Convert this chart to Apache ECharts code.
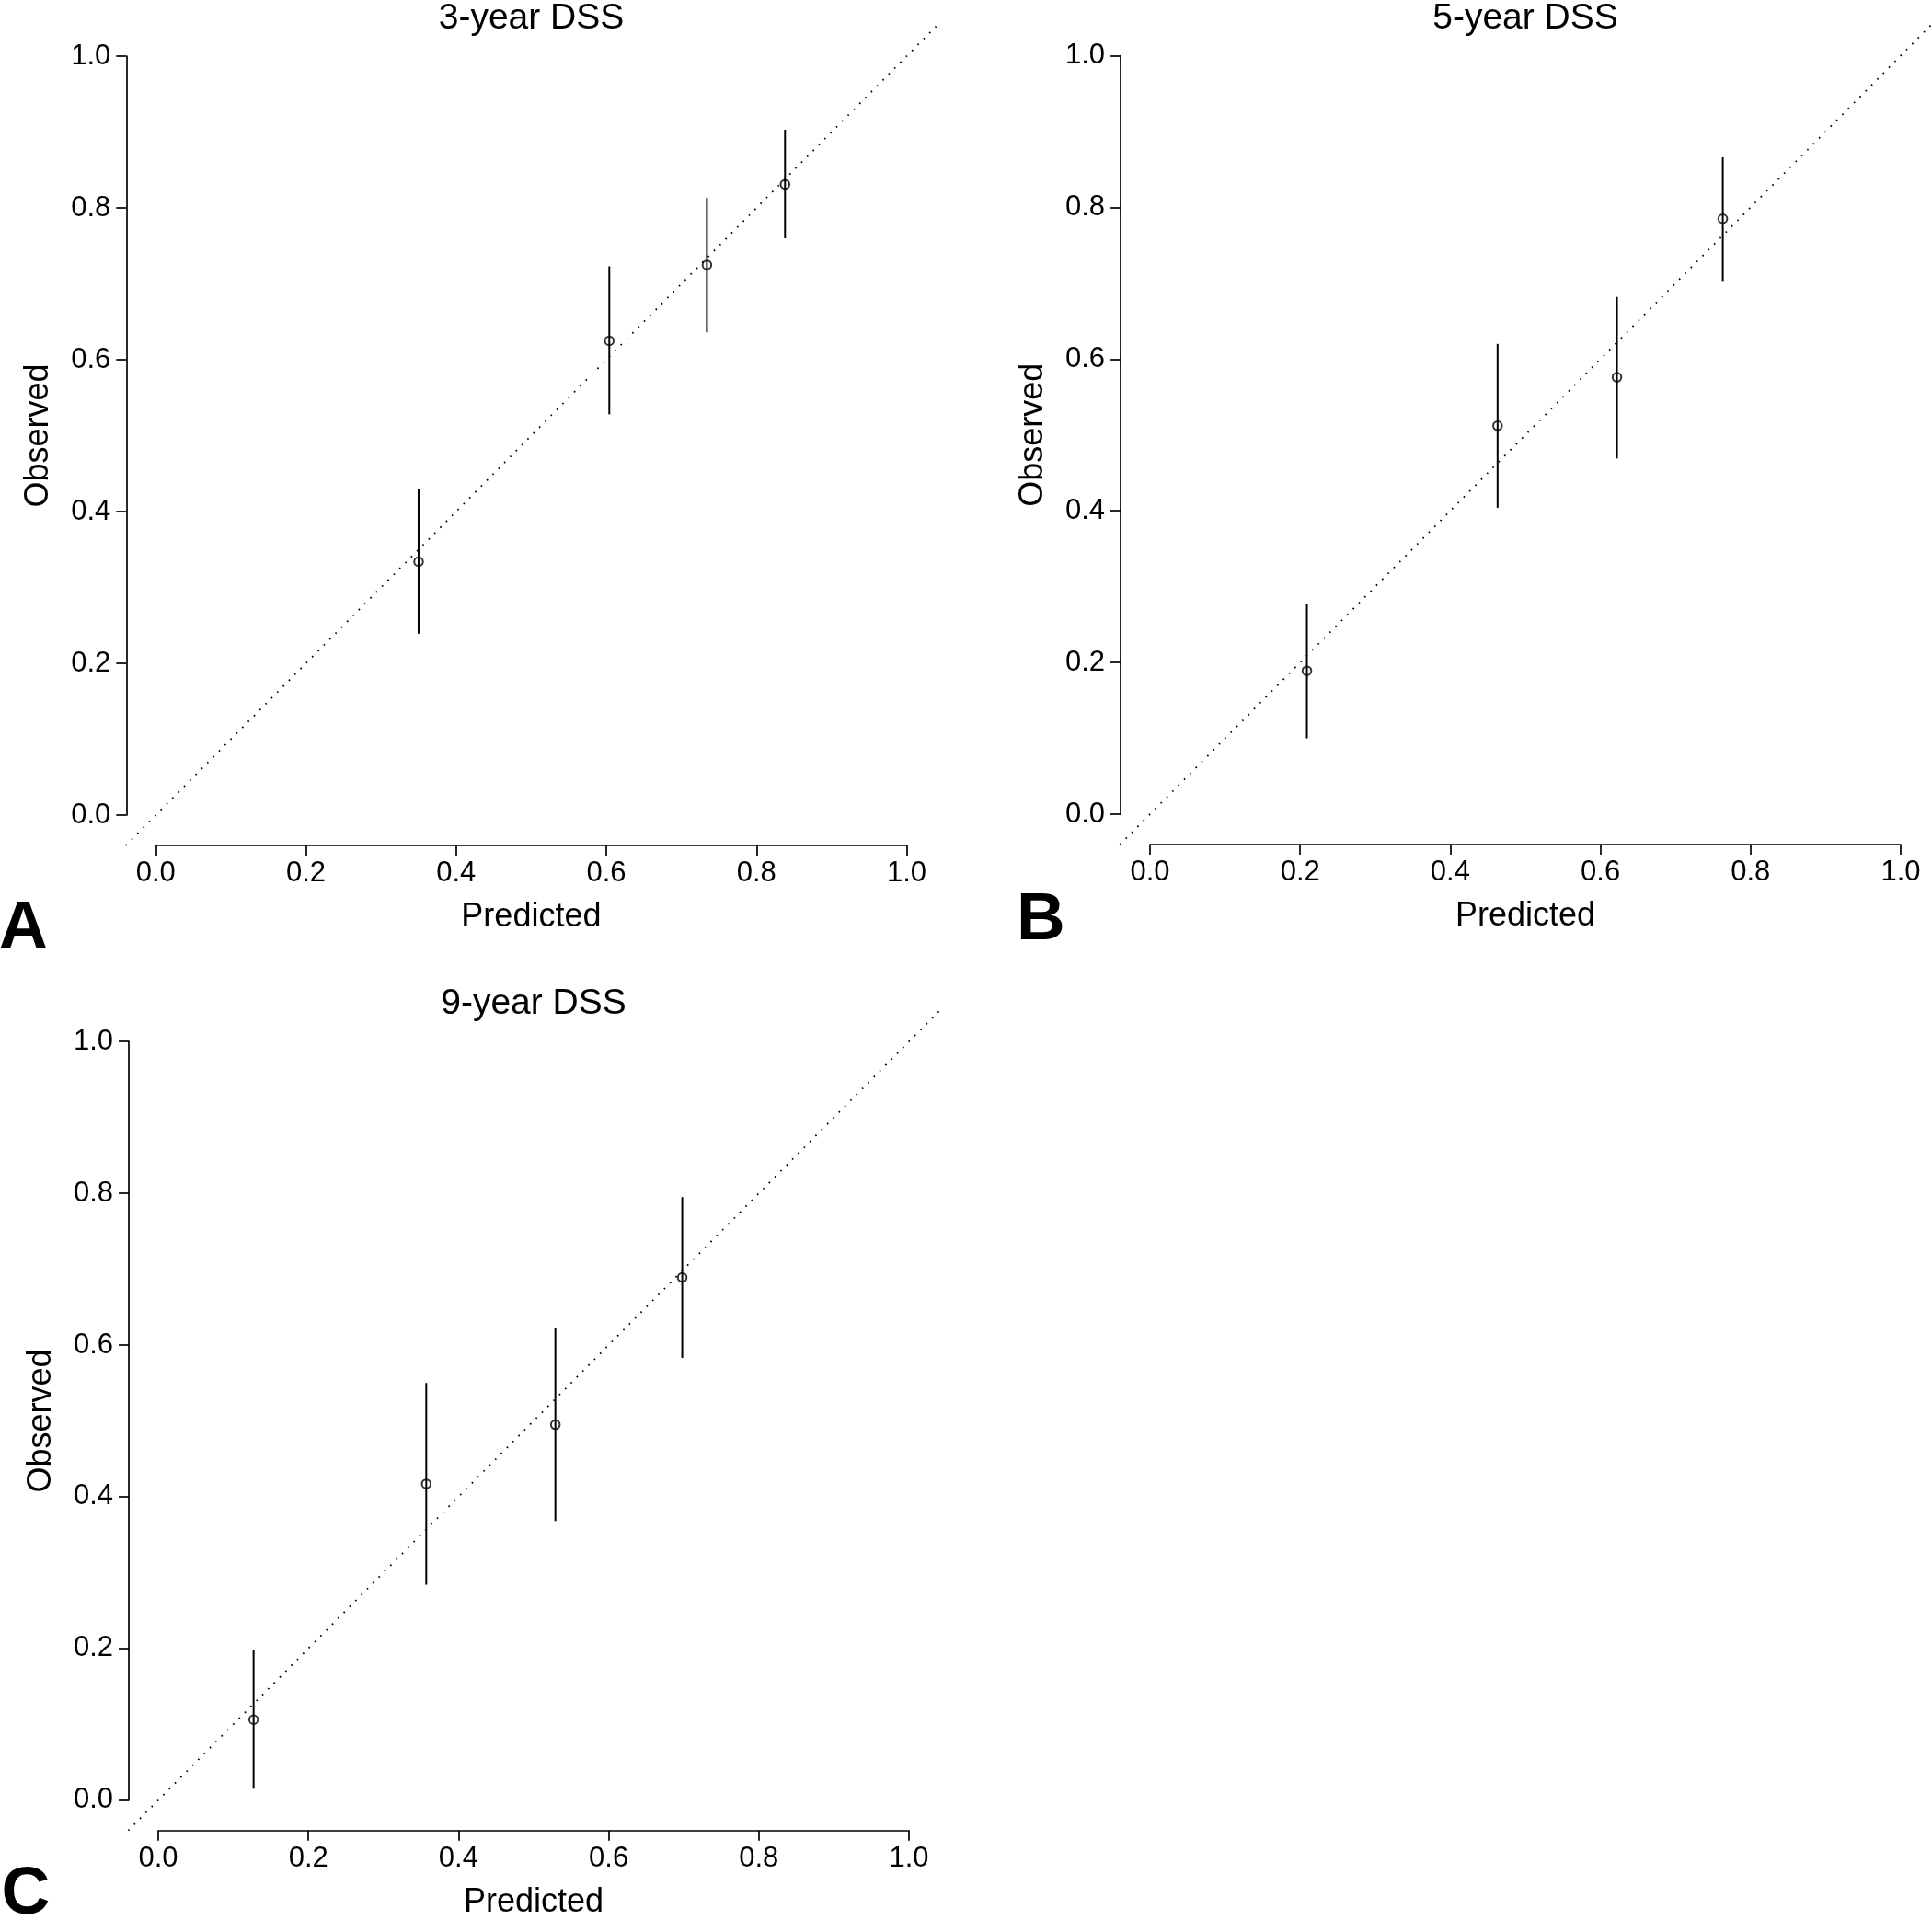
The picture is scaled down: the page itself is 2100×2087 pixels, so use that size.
<!DOCTYPE html>
<html><head><meta charset="utf-8">
<script src="https://cdn.jsdelivr.net/npm/echarts@6/dist/echarts.min.js"></script>
<style>html,body{margin:0;padding:0;background:#fff}#c{width:2100px;height:2087px}</style>
</head><body><div id="c"></div>
<script>
// ---- data ----
const panelTitles = ['3-year DSS', '5-year DSS', '9-year DSS'];
const panelLetters = ['A', 'B', 'C'];
const xAxisTitle = 'Predicted';
const yAxisTitle = 'Observed';
const tickInterval = 0.2;

const predA = [0.350, 0.604, 0.734, 0.838];
const obsA  = [0.334, 0.625, 0.725, 0.831];
const loA   = [0.239, 0.528, 0.636, 0.760];
const hiA   = [0.430, 0.723, 0.813, 0.903];

const predB = [0.209, 0.463, 0.622, 0.763];
const obsB  = [0.189, 0.512, 0.576, 0.785];
const loB   = [0.100, 0.404, 0.469, 0.703];
const hiB   = [0.277, 0.620, 0.682, 0.866];

const predC = [0.127, 0.357, 0.529, 0.698];
const obsC  = [0.106, 0.417, 0.495, 0.689];
const loC   = [0.015, 0.284, 0.368, 0.583];
const hiC   = [0.198, 0.550, 0.622, 0.795];

const diagonal = [[-0.04, -0.04], [1.04, 1.04]];

// ---- layout ----
const FONT = 'Liberation Sans, Arial, Helvetica, sans-serif';
const grids = [
  {left: 169.3, top: 61,     width: 816.2, height: 825},
  {left: 1250,  top: 60.5,   width: 816,   height: 824.5},
  {left: 172,   top: 1132.2, width: 816,   height: 824.5}
];
const panels = [
  {pred: predA, obs: obsA, lo: loA, hi: hiA},
  {pred: predB, obs: obsB, lo: loB, hi: hiB},
  {pred: predC, obs: obsC, lo: loC, hi: hiC}
];

const chart = echarts.init(document.getElementById('c'), null, {renderer: 'canvas'});

const axisCommon = {
  type: 'value', min: 0, max: 1, interval: tickInterval,
  splitLine: {show: false},
  axisLine: {show: true, onZero: false, lineStyle: {color: '#000', width: 1.7}},
  axisTick: {show: true, inside: false, length: 11, lineStyle: {color: '#000', width: 1.7}},
  axisLabel: {color: '#000', fontSize: 31, fontFamily: FONT, formatter: v => v.toFixed(1), showMinLabel: true, showMaxLabel: true},
  nameLocation: 'middle',
  nameTextStyle: {color: '#000', fontSize: 36, fontFamily: FONT}
};

const xAxes = [], yAxes = [], series = [], graphics = [];
panels.forEach((p, i) => {
  xAxes.push(Object.assign({}, axisCommon, {
    gridIndex: i, position: 'bottom', offset: 33, name: xAxisTitle, nameGap: 60,
    axisLabel: Object.assign({}, axisCommon.axisLabel, {margin: 15})
  }));
  yAxes.push(Object.assign({}, axisCommon, {
    gridIndex: i, position: 'left', offset: 32, name: yAxisTitle, nameGap: 77,
    axisLabel: Object.assign({}, axisCommon.axisLabel, {margin: 17})
  }));
  // identity reference line, spanning the full plot region
  series.push({
    type: 'custom', xAxisIndex: i, yAxisIndex: i, silent: true, clip: false,
    data: [[diagonal[0][0], diagonal[0][1], diagonal[1][0], diagonal[1][1]]],
    encode: {x: [0, 2], y: [1, 3]},
    renderItem: (params, api) => {
      const a = api.coord([api.value(0), api.value(1)]);
      const b = api.coord([api.value(2), api.value(3)]);
      return {type: 'line', shape: {x1: a[0], y1: a[1], x2: b[0], y2: b[1]},
              style: {stroke: '#000', lineWidth: 1.8, lineDash: [1.6, 7.4]}};
    }
  });
  series.push({
    type: 'custom', xAxisIndex: i, yAxisIndex: i,
    data: p.pred.map((x, k) => [x, p.lo[k], p.hi[k]]),
    encode: {x: 0, y: [1, 2]},
    renderItem: (params, api) => {
      const a = api.coord([api.value(0), api.value(1)]);
      const b = api.coord([api.value(0), api.value(2)]);
      return {type: 'line', shape: {x1: a[0], y1: a[1], x2: b[0], y2: b[1]},
              style: {stroke: '#000', lineWidth: 2}};
    }
  });
  series.push({
    type: 'scatter', xAxisIndex: i, yAxisIndex: i, z: 5,
    data: p.pred.map((x, k) => [x, p.obs[k]]),
    symbol: 'circle', symbolSize: 9.5,
    itemStyle: {color: 'rgba(0,0,0,0)', borderColor: '#000', borderWidth: 2}
  });
});

// titles and panel letters
const titlePos = [[577.5, 20], [1658, 20], [580, 1091]];
panelTitles.forEach((t, i) => {
  graphics.push({type: 'text', x: titlePos[i][0], y: titlePos[i][1],
    style: {text: t, fill: '#000', font: '39px ' + FONT, textAlign: 'center', textVerticalAlign: 'middle'}});
});
const letterPos = [[-1, 1009.5], [1105, 1001], [1.5, 2059.5]];
panelLetters.forEach((t, i) => {
  graphics.push({type: 'text', x: letterPos[i][0], y: letterPos[i][1],
    style: {text: t, fill: '#000', font: 'bold 73px ' + FONT, textAlign: 'left', textVerticalAlign: 'middle'}});
});

chart.setOption({
  animation: false,
  backgroundColor: '#fff',
  grid: grids.map(g => Object.assign({containLabel: false}, g)),
  xAxis: xAxes,
  yAxis: yAxes,
  series: series,
  graphic: graphics
});
</script>
</body></html>
